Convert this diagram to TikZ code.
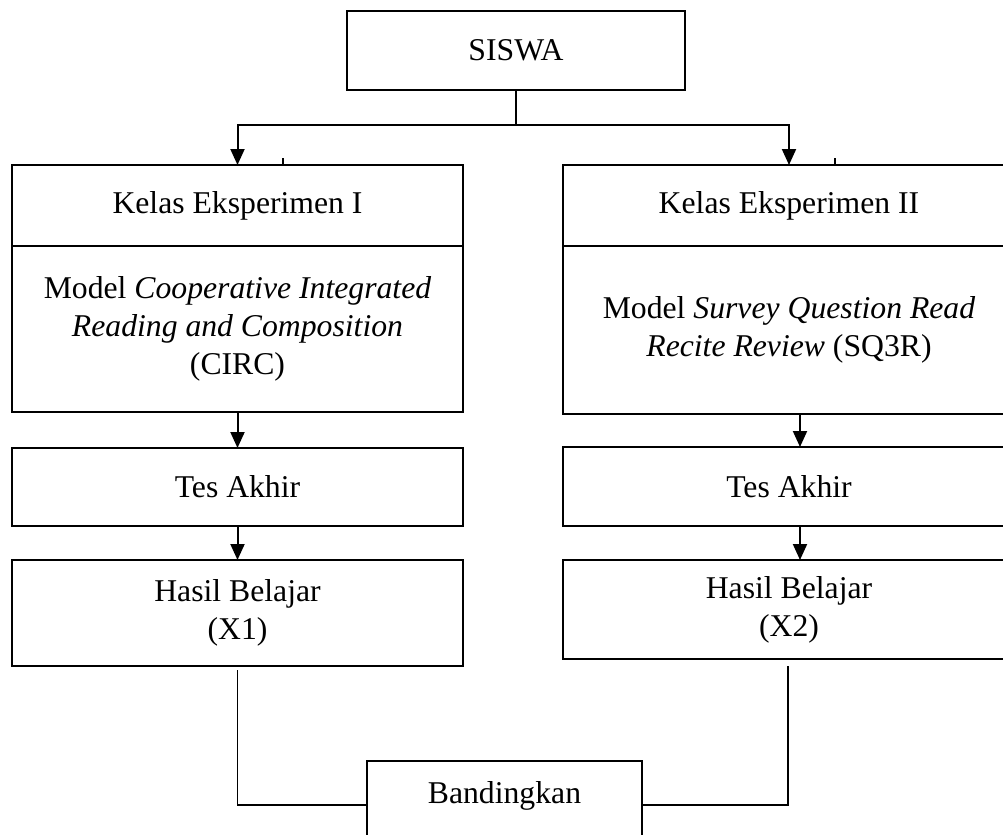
\documentclass[tikz,border=0pt]{standalone}
\usepackage{fontspec}
\setmainfont{Liberation Serif}
\usetikzlibrary{positioning, arrows.meta}

\begin{document}
\begin{tikzpicture}[x=0.5pt, y=-0.5pt, font=\fontsize{15.85}{19}\selectfont,
    kotak/.style={draw, line width=1pt, inner sep=0pt, outer sep=0pt, align=center},
    panah/.style={-{Triangle[length=8pt, width=7pt]}, line width=1pt},
    garis/.style={line width=0.8pt}]
    \useasboundingbox (0,0) rectangle (1003,835);
    \node [kotak, minimum width=169pt, minimum height=39.5pt] (siswa) at (516,50.5) {SISWA};
    \node [kotak, minimum width=225.5pt, minimum height=40.5pt, anchor=north] (kelasA) at (237.5,165) {Kelas Eksperimen I};
    \node [kotak, minimum width=225.5pt, minimum height=83pt, below = 0pt of kelasA] (modA) {Model \textit{Cooperative Integrated}\\ \textit{Reading and Composition}\\ (CIRC)};
    \node [kotak, minimum width=225.5pt, minimum height=39pt, below = 18pt of modA] (tesA) {Tes Akhir};
    \node [kotak, minimum width=225.5pt, minimum height=53pt, below = 17pt of tesA] (hasilA) {Hasil Belajar\\ (X1)};
    \node [kotak, minimum width=226pt, minimum height=40.5pt, anchor=north] (kelasB) at (789,165) {Kelas Eksperimen II};
    \node [kotak, minimum width=226pt, minimum height=84pt, below = 0pt of kelasB] (modB) {Model \textit{Survey Question Read}\\ \textit{Recite Review} (SQ3R)};
    \node [kotak, minimum width=226pt, minimum height=39.5pt, below = 16.5pt of modB] (tesB) {Tes Akhir};
    \node [kotak, minimum width=226pt, minimum height=49.5pt, below = 17pt of tesB] (hasilB) {Hasil Belajar\\ (X2)};
    \node [kotak, minimum width=137.5pt, inner ysep=10pt, text height=11pt, text depth=30pt, anchor=north] (band) at (504.5,761) {Bandingkan};
    \coordinate (cabang) at (siswa.south |- 0,125);
    \draw [line width=1pt] (siswa.south) -- (cabang);
    \draw [panah] (cabang) -| (kelasA.north);
    \draw [panah] (cabang) -| (kelasB.north);
    \draw [garis] (283,158) -- (283,165);
    \draw [garis] (835,158) -- (835,165);
    \draw [panah] (modA) -- (tesA);
    \draw [panah] (tesA) -- (hasilA);
    \draw [panah] ([xshift=5.5pt]modB.south) -- ([xshift=5.5pt]tesB.north);
    \draw [panah] ([xshift=5.5pt]tesB.south) -- ([xshift=5.5pt]hasilB.north);
    \draw [garis] ([yshift=-2pt]hasilA.south) |- ([yshift=-22pt]band.north west);
    \draw [garis] ([xshift=-0.5pt, yshift=-3.5pt]hasilB.south) |- ([yshift=-22pt]band.north east);
\end{tikzpicture}
\end{document}
